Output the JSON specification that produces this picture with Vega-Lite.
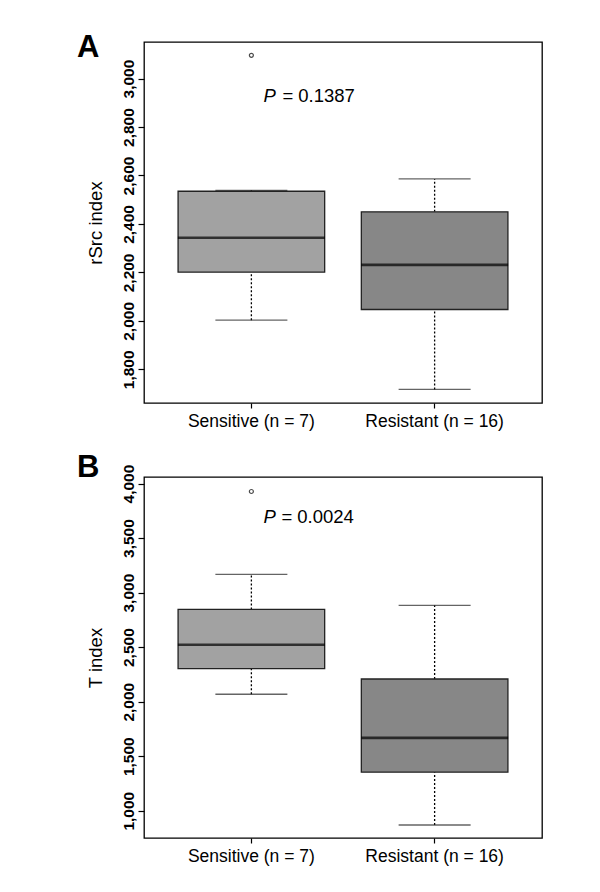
{
  "$schema": "https://vega.github.io/schema/vega-lite/v6.json",
  "background": "white",
  "padding": {"left": 76, "top": 31, "right": 5, "bottom": 5},
  "spacing": 20,
  "datasets": {
    "boxA": [
      {"group": "Sensitive (n = 7)", "lo": 2003, "q1": 2201, "median": 2343, "q3": 2535, "hi": 2539},
      {"group": "Resistant (n = 16)", "lo": 1717, "q1": 2047, "median": 2231, "q3": 2450, "hi": 2586}
    ],
    "outA": [{"group": "Sensitive (n = 7)", "value": 3096}],
    "boxB": [
      {"group": "Sensitive (n = 7)", "lo": 2068, "q1": 2303, "median": 2522, "q3": 2846, "hi": 3167},
      {"group": "Resistant (n = 16)", "lo": 869, "q1": 1354, "median": 1668, "q3": 2208, "hi": 2883}
    ],
    "outB": [{"group": "Sensitive (n = 7)", "value": 3927}]
  },
  "config": {
    "font": "Liberation Sans",
    "view": {"stroke": "black", "strokeWidth": 1.3},
    "axis": {"grid": false, "domain": false, "tickColor": "black", "labelColor": "black", "titleColor": "black", "tickWidth": 1.2},
    "title": {"fontSize": 31, "fontWeight": "bold", "anchor": "start", "frame": "bounds", "color": "black", "baseline": "alphabetic"}
  },
  "vconcat": [
    {
      "width": 398,
      "height": 361,
      "title": {"text": "A", "offset": -22, "dx": -9},
      "encoding": {
        "x": {
          "field": "group", "type": "nominal", "sort": ["Sensitive (n = 7)", "Resistant (n = 16)"],
          "scale": {"type": "band", "paddingInner": 0.2, "paddingOuter": 0.186},
          "axis": {"title": null, "labelAngle": 0, "labelFontSize": 17.5, "tickSize": 5, "labelPadding": 4}
        }
      },
      "layer": [
        {
          "data": {"name": "boxA"},
          "mark": {"type": "rule", "strokeDash": [2, 2], "strokeWidth": 1.3, "color": "black"},
          "encoding": {
            "y": {"field": "lo", "type": "quantitative", "scale": {"domain": [1661, 3151], "nice": false, "zero": false},
              "axis": {"values": [1800, 2000, 2200, 2400, 2600, 2800, 3000], "format": ",d", "labelAngle": 270, "labelAlign": "center", "labelBaseline": "bottom", "labelFontSize": 15.5, "labelFontWeight": "bold", "tickSize": 6, "labelPadding": 2, "title": "rSrc index", "titleFontSize": 18.5, "titleFontWeight": "normal", "titlePadding": 16}},
            "y2": {"field": "q1"}
          }
        },
        {
          "data": {"name": "boxA"},
          "mark": {"type": "rule", "strokeDash": [2, 2], "strokeWidth": 1.3, "color": "black"},
          "encoding": {"y": {"field": "q3", "type": "quantitative"}, "y2": {"field": "hi"}}
        },
        {
          "data": {"name": "boxA"},
          "mark": {"type": "tick", "orient": "horizontal", "size": 72, "thickness": 1.3, "color": "#222"},
          "encoding": {"y": {"field": "lo", "type": "quantitative"}}
        },
        {
          "data": {"name": "boxA"},
          "mark": {"type": "tick", "orient": "horizontal", "size": 72, "thickness": 1.3, "color": "#222"},
          "encoding": {"y": {"field": "hi", "type": "quantitative"}}
        },
        {
          "data": {"name": "boxA"},
          "mark": {"type": "bar", "stroke": "#222", "strokeWidth": 1.3},
          "encoding": {
            "y": {"field": "q1", "type": "quantitative"}, "y2": {"field": "q3"},
            "color": {"field": "group", "type": "nominal", "scale": {"domain": ["Sensitive (n = 7)", "Resistant (n = 16)"], "range": ["#a2a2a2", "#878787"]}, "legend": null}
          }
        },
        {
          "data": {"name": "boxA"},
          "mark": {"type": "tick", "orient": "horizontal", "size": 147, "thickness": 2.6, "color": "black"},
          "encoding": {"y": {"field": "median", "type": "quantitative"}}
        },
        {
          "data": {"name": "outA"},
          "mark": {"type": "point", "shape": "circle", "filled": false, "size": 16, "strokeWidth": 1.2, "color": "black"},
          "encoding": {"y": {"field": "value", "type": "quantitative"}}
        },
        {
          "data": {"values": [{}]},
          "mark": {"type": "text", "align": "left", "baseline": "middle", "fontSize": 18.5, "fontStyle": "italic", "dx": 12, "color": "black"},
          "encoding": {"x": {"datum": "Sensitive (n = 7)"}, "y": {"datum": 2929}, "text": {"value": "P"}}
        },
        {
          "data": {"values": [{}]},
          "mark": {"type": "text", "align": "left", "baseline": "middle", "fontSize": 18.5, "dx": 31, "color": "black"},
          "encoding": {"x": {"datum": "Sensitive (n = 7)"}, "y": {"datum": 2929}, "text": {"value": "= 0.1387"}}
        }
      ]
    },
    {
      "width": 398,
      "height": 361,
      "title": {"text": "B", "offset": -20, "dx": -9},
      "encoding": {
        "x": {
          "field": "group", "type": "nominal", "sort": ["Sensitive (n = 7)", "Resistant (n = 16)"],
          "scale": {"type": "band", "paddingInner": 0.2, "paddingOuter": 0.186},
          "axis": {"title": null, "labelAngle": 0, "labelFontSize": 17.5, "tickSize": 5, "labelPadding": 4}
        }
      },
      "layer": [
        {
          "data": {"name": "boxB"},
          "mark": {"type": "rule", "strokeDash": [2, 2], "strokeWidth": 1.3, "color": "black"},
          "encoding": {
            "y": {"field": "lo", "type": "quantitative", "scale": {"domain": [750, 4060], "nice": false, "zero": false},
              "axis": {"values": [1000, 1500, 2000, 2500, 3000, 3500, 4000], "format": ",d", "labelAngle": 270, "labelAlign": "center", "labelBaseline": "bottom", "labelFontSize": 15.5, "labelFontWeight": "bold", "tickSize": 6, "labelPadding": 2, "title": "T index", "titleFontSize": 18.5, "titleFontWeight": "normal", "titlePadding": 16}},
            "y2": {"field": "q1"}
          }
        },
        {
          "data": {"name": "boxB"},
          "mark": {"type": "rule", "strokeDash": [2, 2], "strokeWidth": 1.3, "color": "black"},
          "encoding": {"y": {"field": "q3", "type": "quantitative"}, "y2": {"field": "hi"}}
        },
        {
          "data": {"name": "boxB"},
          "mark": {"type": "tick", "orient": "horizontal", "size": 72, "thickness": 1.3, "color": "#222"},
          "encoding": {"y": {"field": "lo", "type": "quantitative"}}
        },
        {
          "data": {"name": "boxB"},
          "mark": {"type": "tick", "orient": "horizontal", "size": 72, "thickness": 1.3, "color": "#222"},
          "encoding": {"y": {"field": "hi", "type": "quantitative"}}
        },
        {
          "data": {"name": "boxB"},
          "mark": {"type": "bar", "stroke": "#222", "strokeWidth": 1.3},
          "encoding": {
            "y": {"field": "q1", "type": "quantitative"}, "y2": {"field": "q3"},
            "color": {"field": "group", "type": "nominal", "scale": {"domain": ["Sensitive (n = 7)", "Resistant (n = 16)"], "range": ["#a2a2a2", "#878787"]}, "legend": null}
          }
        },
        {
          "data": {"name": "boxB"},
          "mark": {"type": "tick", "orient": "horizontal", "size": 147, "thickness": 2.6, "color": "black"},
          "encoding": {"y": {"field": "median", "type": "quantitative"}}
        },
        {
          "data": {"name": "outB"},
          "mark": {"type": "point", "shape": "circle", "filled": false, "size": 16, "strokeWidth": 1.2, "color": "black"},
          "encoding": {"y": {"field": "value", "type": "quantitative"}}
        },
        {
          "data": {"values": [{}]},
          "mark": {"type": "text", "align": "left", "baseline": "middle", "fontSize": 18.5, "fontStyle": "italic", "dx": 12, "color": "black"},
          "encoding": {"x": {"datum": "Sensitive (n = 7)"}, "y": {"datum": 3691}, "text": {"value": "P"}}
        },
        {
          "data": {"values": [{}]},
          "mark": {"type": "text", "align": "left", "baseline": "middle", "fontSize": 18.5, "dx": 30, "color": "black"},
          "encoding": {"x": {"datum": "Sensitive (n = 7)"}, "y": {"datum": 3691}, "text": {"value": "= 0.0024"}}
        }
      ]
    }
  ]
}
